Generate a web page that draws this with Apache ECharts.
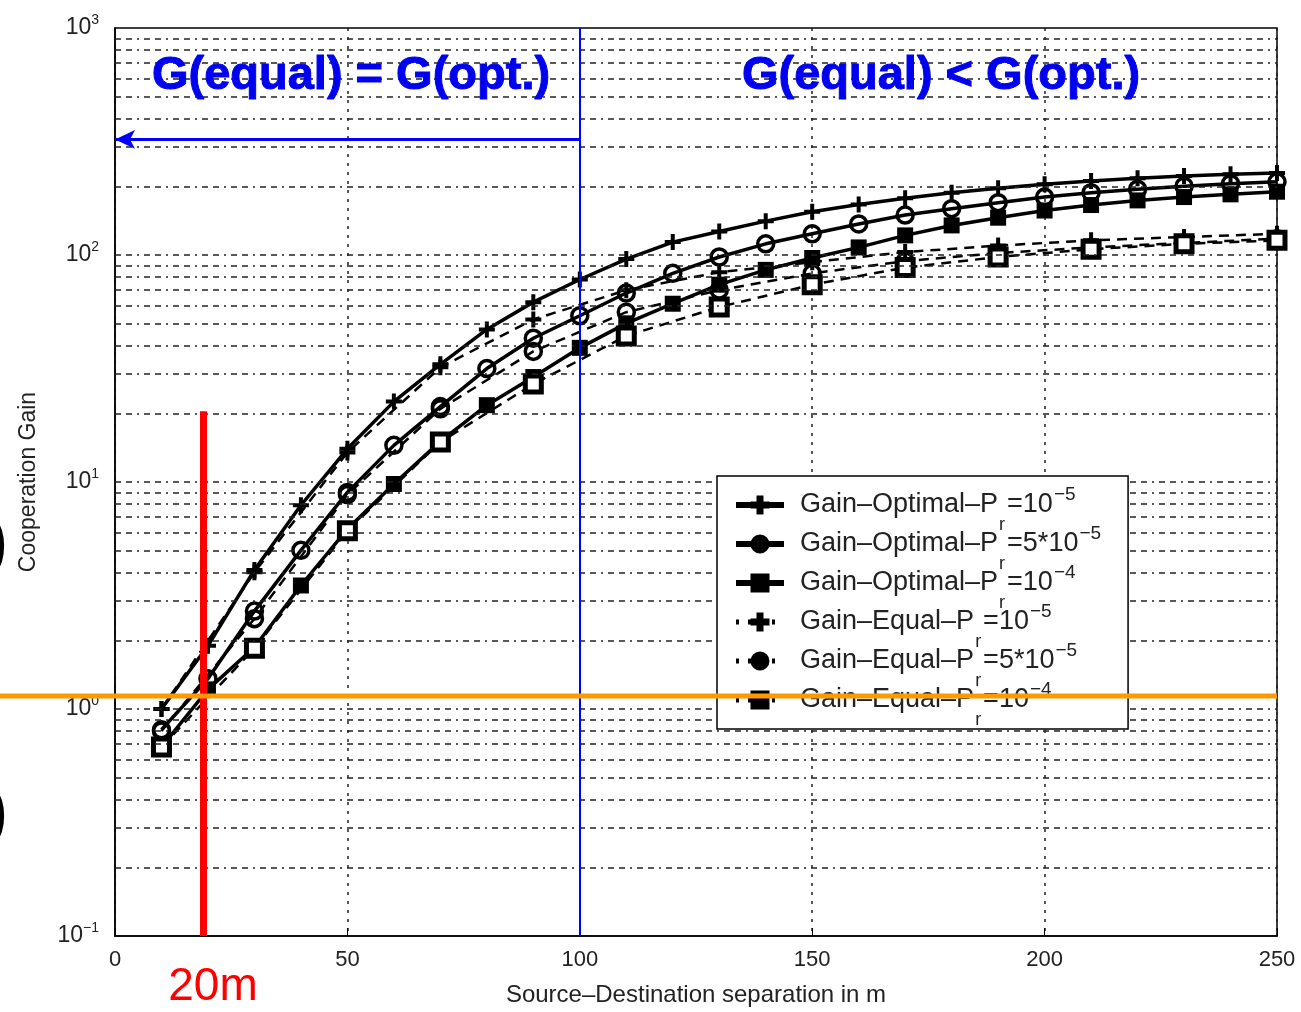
<!DOCTYPE html>
<html>
<head>
<meta charset="utf-8">
<title>Cooperation Gain</title>
<script src="https://cdn.jsdelivr.net/npm/echarts@6/dist/echarts.min.js"></script>
<style>
  html, body { margin: 0; padding: 0; background: #fff; }
  #chart { width: 1301px; height: 1012px; }
</style>
</head>
<body>
<div id="chart"></div>
<script>
// separation in m
const distOpt = [10, 20, 30, 40, 50, 60, 70, 80, 90, 100, 110, 120, 130, 140, 150, 160, 170, 180, 190, 200, 210, 220, 230, 240, 250];
const distEqual = [10, 30, 50, 70, 90, 110, 130, 150, 170, 190, 210, 230, 250];

// cooperation gain, optimal power allocation
const gainOpt1 = [1.0, 1.9, 4.1, 7.9, 14, 22.6, 33, 47, 62, 78, 96, 114, 127, 141, 155, 167, 178, 188, 197, 205, 212, 218, 223, 227, 230];
const gainOpt5 = [0.81, 1.36, 2.7, 5.0, 9.0, 14.5, 21.5, 31.6, 43, 54, 68, 83, 98, 112, 124, 137, 150, 160, 170, 180, 188, 195, 201, 206, 210];
const gainOpt10 = [0.68, 1.22, 1.87, 3.5, 6.2, 9.8, 15.1, 21.8, 29, 39, 50, 61, 74, 86, 97, 108, 122, 135, 146, 157, 166, 174, 180, 185, 190];

// cooperation gain, equal power allocation
const gainEq1 = [1.0, 4.0, 13.5, 32, 52, 70, 84, 93, 103, 110, 116, 120, 124];
const gainEq5 = [0.8, 2.5, 8.8, 21, 37.6, 56, 70, 83, 94, 102, 108, 113, 118];
const gainEq10 = [0.68, 1.85, 6.1, 15, 27, 44, 59, 74, 88, 98, 106, 112, 116];

const seriesNames = ['opt1', 'opt5', 'opt10', 'eq1', 'eq5', 'eq10'];
const legendLabels = {
  opt1: ['Gain–Optimal–P', 'r', '=10', '−5'],
  opt5: ['Gain–Optimal–P', 'r', '=5*10', '−5'],
  opt10: ['Gain–Optimal–P', 'r', '=10', '−4'],
  eq1: ['Gain–Equal–P', 'r', '=10', '−5'],
  eq5: ['Gain–Equal–P', 'r', '=5*10', '−5'],
  eq10: ['Gain–Equal–P', 'r', '=10', '−4']
};

// grid values (decade * 1..9) and annotations
const gridDecades = [0.1, 1, 10, 100];
const gridSteps = [1, 2, 3, 4, 5, 6, 7, 8, 9];
const splitDistance = 100;
const redLineX = 19;
const redLineTop = 20.5;
const arrowGain = 323;
const orangeGain = 1.14;

const FONT = '"Liberation Sans", Arial, Helvetica, sans-serif';
const PLUS = 'path://M3,0H5V3H8V5H5V8H3V5H0V3H3Z';

const gridValues = [];
gridDecades.forEach(d => gridSteps.forEach(s => {
  const v = +(d * s).toPrecision(3);
  if (v > 0.1) gridValues.push(v);
}));

const pairs = (xs, ys) => xs.map((x, i) => [x, ys[i]]);

function curve(name, xs, ys, symbol, dashed) {
  const s = {
    name: name,
    type: 'line',
    data: pairs(xs, ys),
    symbol: symbol,
    symbolSize: 16,
    showAllSymbol: true,
    z: 4,
    lineStyle: { color: '#000', width: dashed ? 2.5 : 3.5, type: dashed ? [10, 7] : 'solid' },
    itemStyle: { color: '#000', borderColor: '#000', borderWidth: 0 },
    emphasis: { disabled: true },
    animation: false
  };
  if (symbol === 'circle') {
    s.itemStyle = { color: 'rgba(0,0,0,0)', borderColor: '#000', borderWidth: 3.5 };
  }
  if (dashed && symbol === 'rect') {
    s.itemStyle = { color: '#fff', borderColor: '#000', borderWidth: 5 };
  }
  return s;
}

function legendItem(name, dashed) {
  return {
    name: name,
    lineStyle: { width: dashed ? 5 : 6, type: dashed ? [3, 9] : 'solid', color: '#000' },
    itemStyle: { color: '#000', borderColor: '#000', borderWidth: 3 }
  };
}

const chart = echarts.init(document.getElementById('chart'));

chart.setOption({
  backgroundColor: '#fff',
  animation: false,
  grid: {
    left: 115, right: 24, top: 28, bottom: 72,
    show: true, borderColor: '#000', borderWidth: 1.5
  },
  legend: {
    data: seriesNames.map((n, i) => legendItem(n, i >= 3)),
    orient: 'vertical',
    left: 717,
    top: 476,
    padding: [0, 27, 0, 16],
    itemGap: -19,
    itemWidth: 48,
    itemHeight: 20,
    backgroundColor: '#fff',
    borderColor: '#000',
    borderWidth: 1.5,
    borderRadius: 0,
    z: 8,
    selectedMode: false,
    formatter: name => {
      const t = legendLabels[name];
      return '{m|' + t[0] + '}{sub|' + t[1] + '}{m|' + t[2] + '}{sup|' + t[3] + '}';
    },
    textStyle: {
      fontFamily: FONT,
      color: '#222',
      padding: [0, 0, 0, 11],
      rich: {
        m: { fontFamily: FONT, fontSize: 27, lineHeight: 30, color: '#222' },
        sub: { fontFamily: FONT, fontSize: 18, lineHeight: 18, padding: [40, 2, 0, 1], color: '#222' },
        sup: { fontFamily: FONT, fontSize: 19, lineHeight: 19, padding: [0, 0, 20, 1], color: '#222' }
      }
    }
  },
  xAxis: {
    type: 'value',
    min: 0,
    max: 250,
    interval: 50,
    name: 'Source–Destination separation in m',
    nameLocation: 'middle',
    nameGap: 47,
    nameTextStyle: { fontFamily: FONT, fontSize: 24, color: '#222' },
    axisLine: { lineStyle: { color: '#000', width: 1.5 } },
    axisTick: { inside: true, length: 8, lineStyle: { color: '#000' } },
    axisLabel: { fontFamily: FONT, fontSize: 22, color: '#222', margin: 13 },
    splitLine: { show: true, lineStyle: { color: '#222', width: 1.5, type: [3, 6] } }
  },
  yAxis: {
    type: 'log',
    logBase: 10,
    min: 0.1,
    max: 1000,
    name: 'Cooperation Gain',
    nameLocation: 'middle',
    nameGap: 75,
    nameTextStyle: { fontFamily: FONT, fontSize: 23, color: '#222' },
    axisLine: { lineStyle: { color: '#000', width: 1.5 } },
    axisTick: { show: false },
    splitLine: { show: false },
    axisLabel: {
      margin: 16,
      formatter: v => {
        const e = Math.round(Math.log10(v));
        return '{b|10}{e|' + (e < 0 ? '−' + (-e) : e) + '}';
      },
      rich: {
        b: { fontFamily: FONT, fontSize: 23, color: '#222' },
        e: { fontFamily: FONT, fontSize: 14, color: '#222', padding: [0, 0, 16, 0] }
      }
    }
  },
  series: [
    {
      name: 'grid',
      type: 'line',
      data: [],
      z: 1,
      silent: true,
      markLine: {
        silent: true,
        symbol: 'none',
        animation: false,
        label: { show: false },
        lineStyle: { color: '#222', width: 1.5, type: [6, 5, 6, 5, 2, 5] },
        data: gridValues.map(v => ({ yAxis: v }))
      }
    },
    curve('opt1', distOpt, gainOpt1, PLUS, false),
    curve('opt5', distOpt, gainOpt5, 'circle', false),
    curve('opt10', distOpt, gainOpt10, 'rect', false),
    curve('eq1', distEqual, gainEq1, PLUS, true),
    curve('eq5', distEqual, gainEq5, 'circle', true),
    curve('eq10', distEqual, gainEq10, 'rect', true),
    {
      name: 'notes',
      type: 'line',
      data: [],
      z: 6,
      silent: true,
      markLine: {
        silent: true,
        animation: false,
        symbol: 'none',
        label: { show: false },
        data: [
          [{ coord: [redLineX, redLineTop], lineStyle: { color: '#ff0000', width: 7, type: 'solid' } },
           { coord: [redLineX, 0.1] }],
          [{ coord: [splitDistance, 1000], lineStyle: { color: '#0000ff', width: 2, type: 'solid' } },
           { coord: [splitDistance, 0.1] }],
          [{ coord: [splitDistance, arrowGain], symbol: 'none', lineStyle: { color: '#0000ff', width: 3, type: 'solid' } },
           { coord: [0, arrowGain], symbol: 'arrow', symbolSize: [14, 20] }]
        ]
      }
    }
  ]
});

const orangeY = chart.convertToPixel({ yAxisIndex: 0 }, orangeGain);
const rightX = chart.convertToPixel({ xAxisIndex: 0 }, 250);

chart.setOption({
  graphic: [
    {
      type: 'line', z: 20, silent: true,
      shape: { x1: 0, y1: orangeY, x2: rightX, y2: orangeY },
      style: { stroke: '#ff9900', lineWidth: 5 }
    },
    {
      type: 'text', z: 20, silent: true, x: 351, y: 76,
      style: { text: 'G(equal) = G(opt.)', fontFamily: FONT, fontWeight: 'bold', fontSize: 47,
               fill: '#0000f0', stroke: '#0000f0', lineWidth: 1, align: 'center', verticalAlign: 'middle' }
    },
    {
      type: 'text', z: 20, silent: true, x: 941, y: 76,
      style: { text: 'G(equal) < G(opt.)', fontFamily: FONT, fontWeight: 'bold', fontSize: 47,
               fill: '#0000f0', stroke: '#0000f0', lineWidth: 1, align: 'center', verticalAlign: 'middle' }
    },
    {
      type: 'text', z: 20, silent: true, x: 213, y: 987,
      style: { text: '20m', fontFamily: FONT, fontSize: 46, fill: '#ff0000', align: 'center', verticalAlign: 'middle' }
    },
    {
      type: 'text', z: 20, silent: true, x: -14, y: 545,
      style: { text: ')', fontFamily: FONT, fontWeight: 'bold', fontSize: 64, fill: '#000', verticalAlign: 'middle' }
    },
    {
      type: 'text', z: 20, silent: true, x: -14, y: 815,
      style: { text: ')', fontFamily: FONT, fontWeight: 'bold', fontSize: 64, fill: '#000', verticalAlign: 'middle' }
    }
  ]
});
</script>
</body>
</html>
